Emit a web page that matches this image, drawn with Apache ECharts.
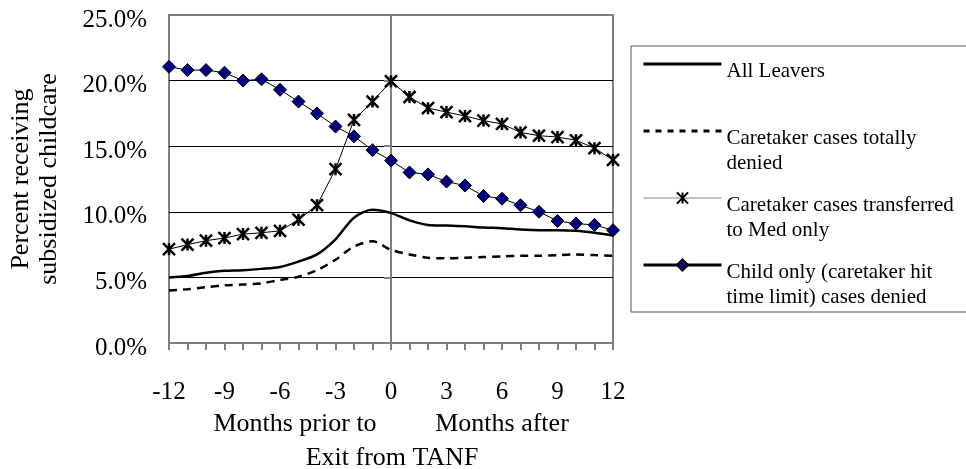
<!DOCTYPE html>
<html>
<head>
<meta charset="utf-8">
<script src="https://cdn.jsdelivr.net/npm/echarts@6.0.0/dist/echarts.min.js"></script>
<style>
  html, body { margin: 0; padding: 0; background: #fff; }
  #chart { width: 966px; height: 469px; }
</style>
</head>
<body>
<div id="chart"></div>
<script>
// months relative to exit from TANF
var months = [-12, -11, -10, -9, -8, -7, -6, -5, -4, -3, -2, -1, 0, 1, 2, 3, 4, 5, 6, 7, 8, 9, 10, 11, 12];
var yTicks = [0, 5, 10, 15, 20, 25];

var seriesNames = [
  "All Leavers",
  "Caretaker cases totally denied",
  "Caretaker cases transferred to Med only",
  "Child only (caretaker hit time limit) cases denied",
];
var legendLabels = [
  "All Leavers",
  "Caretaker cases totally\ndenied",
  "Caretaker cases transferred\nto Med only",
  "Child only (caretaker hit\ntime limit) cases denied",
];

// percent receiving subsidized childcare
var allLeavers = [5.0, 5.1, 5.35, 5.5, 5.55, 5.65, 5.8, 6.2, 6.75, 7.9, 9.55, 10.15, 9.9, 9.35, 9.0, 8.95, 8.9, 8.8, 8.75, 8.65, 8.6, 8.6, 8.55, 8.4, 8.2];
var totallyDenied = [4.0, 4.1, 4.25, 4.4, 4.45, 4.55, 4.8, 5.05, 5.55, 6.35, 7.35, 7.75, 7.1, 6.75, 6.5, 6.45, 6.5, 6.55, 6.6, 6.65, 6.65, 6.7, 6.75, 6.7, 6.65];
var transferredMed = [7.15, 7.5, 7.8, 8.0, 8.3, 8.4, 8.55, 9.4, 10.5, 13.25, 17.0, 18.4, 19.95, 18.75, 17.9, 17.6, 17.3, 16.95, 16.7, 16.05, 15.8, 15.7, 15.45, 14.85, 13.95];
var childOnly = [21.05, 20.8, 20.8, 20.6, 20.0, 20.1, 19.3, 18.4, 17.5, 16.5, 15.75, 14.7, 13.9, 13.0, 12.85, 12.3, 12.0, 11.2, 11.0, 10.5, 10.0, 9.3, 9.1, 9.0, 8.6];

function pairs(vals) {
  return months.map(function (m, i) { return [m, vals[i]]; });
}

var serif = "Liberation Serif";
var chart = echarts.init(document.getElementById("chart"));

var option = {
  animation: false,
  backgroundColor: "#fff",
  grid: {
    left: 169, right: 353, top: 15, bottom: 126,
    show: true, borderColor: "#808080", borderWidth: 2,
  },
  xAxis: {
    type: "value",
    min: -12, max: 12, interval: 1,
    axisLine: { lineStyle: { color: "#808080", width: 2 } },
    axisTick: { show: true, length: 7, lineStyle: { color: "#808080", width: 2 } },
    axisLabel: {
      margin: 37,
      color: "#000", fontFamily: serif, fontSize: 25,
      formatter: function (v) { return v % 3 === 0 ? String(v) : ""; },
    },
    splitLine: { show: false },
  },
  yAxis: [
    {
      type: "value",
      min: yTicks[0], max: yTicks[yTicks.length - 1], interval: 5,
      axisLine: { show: false, onZero: false },
      axisTick: { show: false },
      axisLabel: {
        margin: 22, padding: [10, 0, 0, 0],
        color: "#000", fontFamily: serif, fontSize: 25,
        rich: { v: {} }, // rich mode so the padding moves the text down
        formatter: function (v) { return v.toFixed(1) + "%"; },
      },
      splitLine: { show: true, showMinLine: false, showMaxLine: false, lineStyle: { color: "#000", width: 1 } },
    },
    {
      // vertical axis line crossing at month 0
      type: "value",
      min: yTicks[0], max: yTicks[yTicks.length - 1], interval: 5,
      position: "left",
      axisLine: { show: true, onZero: true, lineStyle: { color: "#808080", width: 2 } },
      axisTick: { show: true, length: 7, lineStyle: { color: "#808080", width: 2 } },
      axisLabel: { show: false },
      splitLine: { show: false },
    },
  ],
  legend: {
    orient: "vertical",
    left: 642, top: 18.5,
    padding: 0,
    itemWidth: 78, itemHeight: 14, itemGap: -24,
    formatter: function (name) { return legendLabels[seriesNames.indexOf(name)]; },
    textStyle: {
      color: "#000", fontFamily: serif, fontSize: 21, lineHeight: 25,
      rich: { t: {} },
    },
    data: [
      { name: seriesNames[0], itemStyle: { opacity: 0 }, lineStyle: { width: 3 }, textStyle: { padding: [40, 0, 26, 0] } },
      { name: seriesNames[1], itemStyle: { opacity: 0 }, lineStyle: { width: 3, type: [6, 6] }, textStyle: { padding: [40, 0, 1, 0] } },
      { name: seriesNames[2], lineStyle: { color: "#808080", width: 1 }, textStyle: { padding: [40, 0, 1, 0] } },
      { name: seriesNames[3], lineStyle: { width: 3 }, textStyle: { padding: [40, 0, 1, 0] } },
    ],
  },
  graphic: [
    // legend frame
    {
      type: "rect", z: -1,
      shape: { x: 631, y: 46, width: 340, height: 266 },
      style: { fill: "#fff", stroke: "#555", lineWidth: 1 },
    },
    {
      type: "text", x: 35, y: 179, rotation: Math.PI / 2,
      style: {
        text: "Percent receiving\nsubsidized childcare",
        fontFamily: serif, fontSize: 26, lineHeight: 28, fill: "#000",
        align: "center", verticalAlign: "middle",
      },
    },
    {
      type: "text", x: 295, y: 424,
      style: { text: "Months prior to", fontFamily: serif, fontSize: 26, fill: "#000", align: "center", verticalAlign: "middle" },
    },
    {
      type: "text", x: 502, y: 424,
      style: { text: "Months after", fontFamily: serif, fontSize: 26, fill: "#000", align: "center", verticalAlign: "middle" },
    },
    {
      type: "text", x: 392, y: 458,
      style: { text: "Exit from TANF", fontFamily: serif, fontSize: 26, fill: "#000", align: "center", verticalAlign: "middle" },
    },
  ],
  series: [
    {
      name: seriesNames[0],
      type: "line",
      data: pairs(allLeavers),
      smooth: 0.3,
      symbol: "none",
      lineStyle: { color: "#000", width: 2.5 },
      itemStyle: { color: "#000" },
      z: 3,
    },
    {
      name: seriesNames[1],
      type: "line",
      data: pairs(totallyDenied),
      smooth: 0.3,
      symbol: "none",
      lineStyle: { color: "#000", width: 2.5, type: [8, 6] },
      itemStyle: { color: "#000" },
      z: 3,
    },
    {
      name: seriesNames[2],
      type: "line",
      data: pairs(transferredMed),
      symbol: "path://M0,0L10,10M10,0L0,10M5,0L5,10",
      symbolSize: 12,
      lineStyle: { color: "#000", width: 1 },
      itemStyle: { color: "#000", borderColor: "#000", borderWidth: 2.5 },
      z: 4,
    },
    {
      name: seriesNames[3],
      type: "line",
      data: pairs(childOnly),
      symbol: "diamond",
      symbolSize: 13,
      lineStyle: { color: "#000", width: 1 },
      itemStyle: { color: "#000080", borderColor: "#000", borderWidth: 1 },
      z: 5,
    },
  ],
};

chart.setOption(option);
</script>
</body>
</html>
